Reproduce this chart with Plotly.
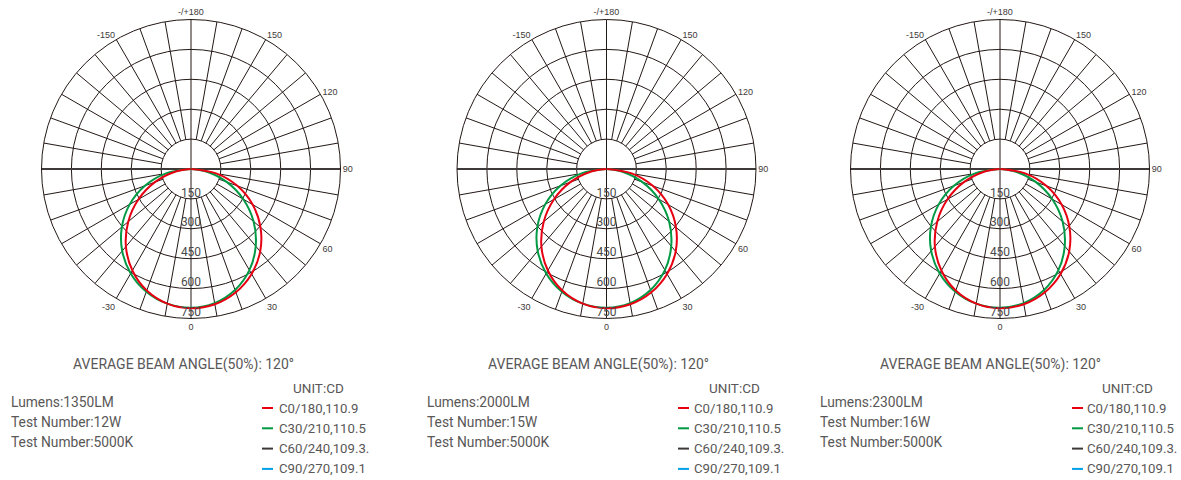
import plotly.graph_objects as go

# ---------------- data ----------------
angles = list(range(-90, 91, 10))
red_c0 = [2, 85, 193, 304, 411, 508, 588, 649, 686, 699, 689, 658, 608, 540, 455, 357, 247, 128, 2]
green_c30 = [2, 127, 246, 355, 453, 537, 605, 655, 686, 696, 683, 646, 586, 505, 410, 303, 192, 85, 2]

radial_ticks = [150, 300, 450, 600, 750]
angular_tickvals = [0, 30, 60, 90, 120, 150, 180, 210, 330]
angular_ticktext = ["0", "30", "60", "90", "120", "150", "-/+180", "-150", "-30"]

beam_text = "AVERAGE BEAM ANGLE(50%): 120°"
lumens = ["Lumens:1350LM", "Lumens:2000LM", "Lumens:2300LM"]
power = ["Test Number:12W", "Test Number:15W", "Test Number:16W"]
cct = ["Test Number:5000K", "Test Number:5000K", "Test Number:5000K"]
unit_label = "UNIT:CD"
legend_names = ["C0/180,110.9", "C30/210,110.5", "C60/240,109.3.", "C90/270,109.1"]
legend_colors = ["#e60012", "#009944", "#3e3a39", "#00a0e9"]

# ---------------- layout constants ----------------
W, H = 1181, 480
centers_x = [191, 606.5, 1000]
center_y = 169
R = 149.5
grid_col = "#231815"
text_col = "#595757"

beam_x = [183, 598, 990]
info_x = [9, 425, 818]
unit_x = [318, 734, 1127]
sw_x = [262, 678, 1072]
sw_len = 11
leg_text_x = [277, 692, 1085]

fig = go.Figure()

spoke_r, spoke_t = [], []
for a in range(0, 360, 10):
    if a % 90 != 0:
        spoke_r += [radial_ticks[0], radial_ticks[-1], None]
        spoke_t += [a, a, None]

annotations = []
shapes = []


def px(x):
    return x / W


def py(y):
    return 1 - y / H


for i in range(3):
    pid = "polar" if i == 0 else f"polar{i+1}"
    sub = pid
    cx = centers_x[i]
    fig.add_trace(go.Scatterpolar(r=spoke_r, theta=spoke_t, mode="lines",
                                  line=dict(color=grid_col, width=1),
                                  hoverinfo="skip", showlegend=False, subplot=sub))
    fig.add_trace(go.Scatterpolar(r=[radial_ticks[-1], 0, radial_ticks[-1]], theta=[180, 0, 0],
                                  mode="lines", line=dict(color=grid_col, width=1),
                                  hoverinfo="skip", showlegend=False, subplot=sub))
    fig.add_trace(go.Scatterpolar(r=[radial_ticks[-1], 0, radial_ticks[-1]], theta=[90, 0, 270],
                                  mode="lines", line=dict(color="#3e3a39", width=2),
                                  hoverinfo="skip", showlegend=False, subplot=sub))
    fig.add_trace(go.Scatterpolar(r=green_c30, theta=angles, mode="lines",
                                  line=dict(color=legend_colors[1], width=2, shape="spline"),
                                  name=legend_names[1], showlegend=False, subplot=sub))
    fig.add_trace(go.Scatterpolar(r=red_c0, theta=angles, mode="lines",
                                  line=dict(color=legend_colors[0], width=2, shape="spline"),
                                  name=legend_names[0], showlegend=False, subplot=sub))
    fig.add_trace(go.Scatterpolar(r=[v - 27 for v in radial_ticks], theta=[0] * len(radial_ticks),
                                  mode="text", text=[str(v) for v in radial_ticks],
                                  textposition="middle center",
                                  textfont=dict(family="Roboto", size=12, color="#4a4a4a"),
                                  hoverinfo="skip", showlegend=False, subplot=sub))

    dom = dict(x=[(cx - R) / W, (cx + R) / W],
               y=[1 - (center_y + R) / H, 1 - (center_y - R) / H])
    fig.update_layout({pid: dict(
        domain=dom,
        bgcolor="white",
        angularaxis=dict(rotation=270, direction="counterclockwise",
                         tickmode="array", tickvals=angular_tickvals, ticktext=angular_ticktext,
                         showgrid=False, showline=True, linecolor=grid_col, linewidth=1,
                         ticks="", tickfont=dict(family="Liberation Sans", size=9, color="#3e3a39")),
        radialaxis=dict(range=[0, radial_ticks[-1]], tickmode="array", tickvals=radial_ticks,
                        showticklabels=False, ticks="", showline=False,
                        gridcolor=grid_col, gridwidth=1),
    )})

    annotations.append(dict(text=beam_text, x=px(beam_x[i]), y=py(364), xref="paper", yref="paper",
                            showarrow=False, xanchor="center", yanchor="middle",
                            font=dict(family="Roboto", size=14, color=text_col)))
    for j, t in enumerate([lumens[i], power[i], cct[i]]):
        annotations.append(dict(text=t, x=px(info_x[i]), y=py(402 + 20 * j), xref="paper", yref="paper",
                                showarrow=False, xanchor="left", yanchor="middle",
                                font=dict(family="Roboto", size=13.8, color=text_col)))
    annotations.append(dict(text=unit_label, x=px(unit_x[i]), y=py(388), xref="paper", yref="paper",
                            showarrow=False, xanchor="center", yanchor="middle",
                            font=dict(family="Roboto", size=13.5, color=text_col)))
    for j, (nm, col) in enumerate(zip(legend_names, legend_colors)):
        yy = 408 + 20.3 * j
        shapes.append(dict(type="line", xref="paper", yref="paper",
                           x0=px(sw_x[i]), x1=px(sw_x[i] + sw_len), y0=py(yy), y1=py(yy),
                           line=dict(color=col, width=2)))
        annotations.append(dict(text=nm, x=px(leg_text_x[i]), y=py(yy), xref="paper", yref="paper",
                                showarrow=False, xanchor="left", yanchor="middle",
                                font=dict(family="Roboto", size=13.2, color=text_col)))

fig.update_layout(width=W, height=H, margin=dict(l=0, r=0, t=0, b=0),
                  paper_bgcolor="white", showlegend=False,
                  annotations=annotations, shapes=shapes)

fig.write_html("out.html", config={"displayModeBar": False},
               post_script="document.body.style.margin='0';document.body.style.overflow='hidden';")
